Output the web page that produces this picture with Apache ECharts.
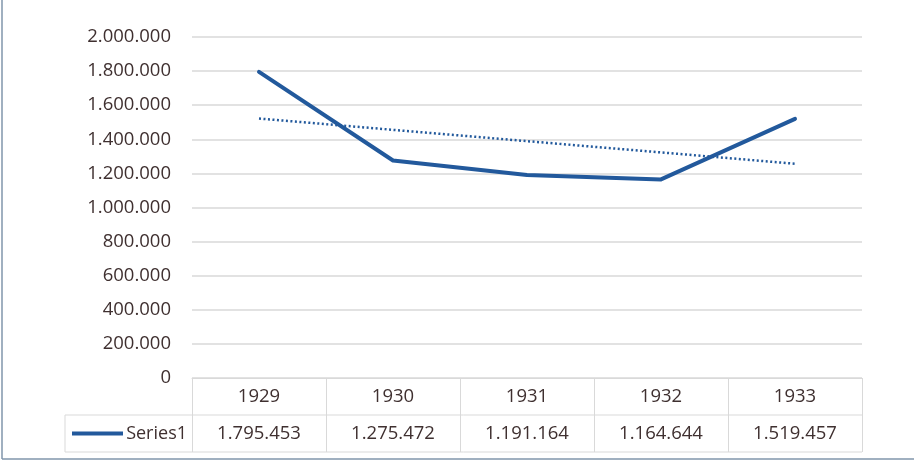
<!DOCTYPE html>
<html>
<head>
<meta charset="utf-8">
<script src="https://cdn.jsdelivr.net/npm/echarts@6/dist/echarts.min.js"></script>
<style>
html,body{margin:0;padding:0;background:#fff;}
#chart{width:914px;height:464px;}
</style>
</head>
<body>
<div id="chart"></div>
<script>
const categories = ['1929', '1930', '1931', '1932', '1933'];
const seriesName = 'Series1';
const seriesValues = [1795453, 1275472, 1191164, 1164644, 1519457];
const trendValues = [1521800, 1455500, 1389200, 1323000, 1256700];
const yTicks = [0, 200000, 400000, 600000, 800000, 1000000, 1200000, 1400000, 1600000, 1800000, 2000000];

const TEXT = '#3f3030';
const GRID = '#d9d9d9';
const BLUE = '#22599c';
const FONT = '"Open Sans", "Noto Sans", sans-serif';

function fmt(v) {
  return String(v).replace(/\B(?=(\d{3})+(?!\d))/g, '.');
}

const chart = echarts.init(document.getElementById('chart'), null, {renderer: 'canvas'});

const rowH = 37;

chart.setOption({
  animation: false,
  backgroundColor: '#fff',
  grid: {left: 192, right: 52, top: 37, bottom: 86},
  xAxis: {
    type: 'category',
    data: categories,
    boundaryGap: true,
    axisLine: {show: true, lineStyle: {color: GRID, width: 1}},
    axisTick: {show: true, length: rowH * 2, lineStyle: {color: GRID, width: 1}},
    axisLabel: {
      margin: 0,
      interval: 0,
      formatter: function (val, idx) {
        return '{y|' + val + '}\n{v|' + fmt(seriesValues[idx]) + '}';
      },
      rich: {
        y: {fontFamily: FONT, fontSize: 18.5, color: TEXT, lineHeight: rowH, height: rowH},
        v: {fontFamily: FONT, fontSize: 18.5, color: TEXT, lineHeight: rowH, height: rowH}
      }
    }
  },
  yAxis: {
    type: 'value',
    min: yTicks[0],
    max: yTicks[yTicks.length - 1],
    interval: yTicks[1] - yTicks[0],
    axisLine: {show: false},
    axisTick: {show: false},
    splitLine: {show: true, lineStyle: {color: GRID, width: 1.5}},
    axisLabel: {
      margin: 21,
      fontFamily: FONT,
      fontSize: 18.5,
      color: TEXT,
      formatter: function (v) { return fmt(v); }
    }
  },
  series: [
    {
      name: 'Trend',
      type: 'line',
      data: trendValues,
      symbol: 'none',
      lineStyle: {color: BLUE, width: 2.5, type: [2, 2.5]},
      z: 2
    },
    {
      name: seriesName,
      type: 'line',
      data: seriesValues,
      symbol: 'none',
      lineStyle: {color: BLUE, width: 4, cap: 'round', join: 'round'},
      z: 3
    }
  ]
});

const y0 = chart.convertToPixel({yAxisIndex: 0}, 0);
const xStart = chart.convertToPixel({xAxisIndex: 0}, categories[0]);
const xEnd = chart.convertToPixel({xAxisIndex: 0}, categories[categories.length - 1]);
const half = (xEnd - xStart) / (categories.length - 1) / 2;
const tableLeft = xStart - half;
const tableRight = xEnd + half;
const legendLeft = 65;
const row2Top = y0 + rowH;
const row2Bottom = y0 + rowH * 2;

chart.setOption({
  graphic: [
    {type: 'line', shape: {x1: legendLeft, y1: row2Top, x2: tableRight, y2: row2Top}, style: {stroke: GRID, lineWidth: 1}},
    {type: 'line', shape: {x1: legendLeft, y1: row2Bottom, x2: tableRight, y2: row2Bottom}, style: {stroke: GRID, lineWidth: 1}},
    {type: 'line', shape: {x1: legendLeft, y1: row2Top, x2: legendLeft, y2: row2Bottom}, style: {stroke: GRID, lineWidth: 1}},
    {type: 'line', shape: {x1: legendLeft + 7, y1: row2Top + rowH / 2, x2: legendLeft + 58, y2: row2Top + rowH / 2}, style: {stroke: BLUE, lineWidth: 4}},
    {type: 'text', style: {text: seriesName, x: tableLeft - 5, y: row2Top + rowH / 2, align: 'right', verticalAlign: 'middle', fontFamily: FONT, fontSize: 18, fill: TEXT}},
    {type: 'line', shape: {x1: 2, y1: 0, x2: 2, y2: 459}, style: {stroke: '#8096ab', lineWidth: 1.5}},
    {type: 'line', shape: {x1: 2, y1: 459, x2: 914, y2: 459}, style: {stroke: '#8096ab', lineWidth: 1.5}}
  ]
});
</script>
</body>
</html>
